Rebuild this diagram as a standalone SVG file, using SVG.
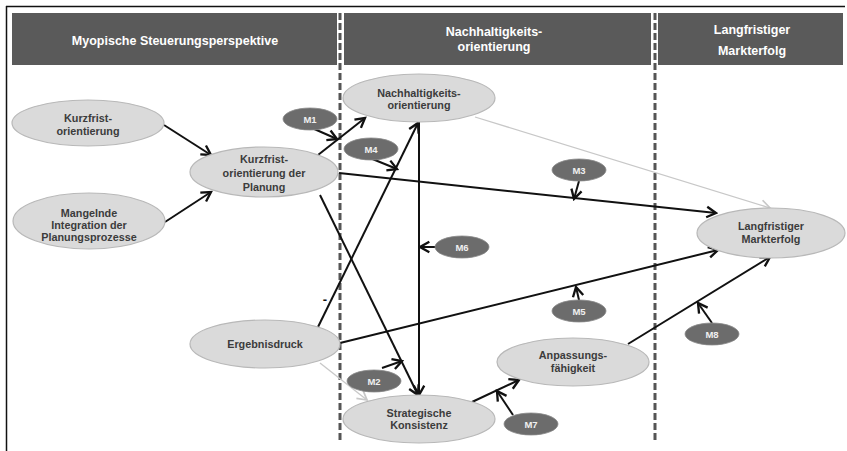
<svg xmlns="http://www.w3.org/2000/svg" width="847" height="451" viewBox="0 0 847 451">
<defs>
<marker id="arr" markerUnits="userSpaceOnUse" markerWidth="14" markerHeight="14" viewBox="-10 -6 12 12" refX="0" refY="0" orient="auto">
<path d="M-8,-4.5 L0,0 L-8,4.5" fill="none" stroke="#111" stroke-width="2"/>
</marker>
<marker id="arrL" markerUnits="userSpaceOnUse" markerWidth="14" markerHeight="14" viewBox="-10 -6 12 12" refX="0" refY="0" orient="auto">
<path d="M-8,-4.5 L0,0 L-8,4.5" fill="none" stroke="#c8c8c8" stroke-width="1.5"/>
</marker>
</defs>
<style>
.bar{fill:#5a5a5a}
.ht{font-family:"Liberation Sans",Arial,sans-serif;font-weight:bold;font-size:12.5px;fill:#fff;text-anchor:middle}
.node{fill:#dadada;stroke:#b8b8b8;stroke-width:1.2}
.nt{font-family:"Liberation Sans",Arial,sans-serif;font-weight:bold;font-size:10.8px;fill:#3c3c3c;text-anchor:middle}
.m{fill:#6c6c6c;stroke:#888;stroke-width:0.8}
.mt{font-family:"Liberation Sans",Arial,sans-serif;font-weight:bold;font-size:9.5px;fill:#f0f0f0;text-anchor:middle}
.c{stroke:#111;stroke-width:2;fill:none;marker-end:url(#arr)}
.cl{stroke:#c8c8c8;stroke-width:1.3;fill:none;marker-end:url(#arrL)}
.dash{stroke:#555;stroke-width:3;stroke-dasharray:7 3;fill:none}
</style>
<rect x="0" y="0" width="847" height="451" fill="#fff"/>
<g id="frame">
<line x1="6" y1="6.5" x2="845" y2="6.5" stroke="#111" stroke-width="1.5"/>
<line x1="6.5" y1="6" x2="6.5" y2="451" stroke="#111" stroke-width="1.5"/>
</g>
<g id="headers">
<rect class="bar" x="12" y="13" width="325" height="52"/>
<rect class="bar" x="344" y="13" width="307" height="52"/>
<rect class="bar" x="658" y="13" width="185" height="52"/>
<text class="ht" x="175" y="45">Myopische Steuerungsperspektive</text>
<text class="ht" x="494" y="36">Nachhaltigkeits-</text>
<text class="ht" x="494" y="51">orientierung</text>
<text class="ht" x="752" y="34">Langfristiger</text>
<text class="ht" x="752" y="55">Markterfolg</text>
</g>
<g id="dividers">
<line class="dash" x1="340" y1="13" x2="340" y2="440"/>
<line class="dash" x1="655" y1="13" x2="655" y2="440"/>
</g>
<g id="connectors">
<line class="c" x1="164" y1="125" x2="211" y2="155"/>
<line class="c" x1="165" y1="222" x2="211" y2="192"/>
<line class="c" x1="318" y1="155" x2="365" y2="118"/>
<line class="c" x1="312" y1="128" x2="337" y2="139"/>
<line class="c" x1="370" y1="158" x2="397" y2="169"/>
<line class="c" x1="318" y1="327" x2="418" y2="123"/>
<line class="c" x1="419" y1="122" x2="419" y2="395"/>
<line class="c" x1="436" y1="247" x2="420" y2="247"/>
<line class="c" x1="320" y1="195" x2="418" y2="395"/>
<line class="c" x1="339" y1="173" x2="716" y2="213"/>
<line class="c" x1="579" y1="181" x2="574" y2="199"/>
<line class="cl" x1="475" y1="117" x2="770" y2="208"/>
<line class="c" x1="340" y1="343" x2="718" y2="250"/>
<line class="c" x1="579" y1="300" x2="576" y2="287"/>
<line class="c" x1="628" y1="344" x2="770" y2="257"/>
<line class="c" x1="712" y1="323" x2="698" y2="303"/>
<line class="c" x1="472" y1="402" x2="519" y2="380"/>
<line class="c" x1="513" y1="415" x2="497" y2="391"/>
<line class="c" x1="382" y1="368" x2="402" y2="361"/>
<line class="cl" x1="320" y1="363" x2="367" y2="400"/>
<text x="325" y="304" font-family="Liberation Sans, Arial, sans-serif" font-weight="bold" font-size="13px" fill="#111" text-anchor="middle">-</text>
</g>
<g id="n-kurzfrist">
<ellipse class="node" cx="88" cy="123" rx="76" ry="23"/>
<text class="nt" x="88" y="122">Kurzfrist-</text>
<text class="nt" x="88" y="135">orientierung</text>
</g>
<g id="n-mangelnde">
<ellipse class="node" cx="89" cy="221" rx="76" ry="28"/>
<text class="nt" x="89" y="217">Mangelnde</text>
<text class="nt" x="89" y="229">Integration der</text>
<text class="nt" x="89" y="241">Planungsprozesse</text>
</g>
<g id="n-kdp">
<ellipse class="node" cx="264" cy="172" rx="74" ry="25"/>
<text class="nt" x="264" y="163">Kurzfrist-</text>
<text class="nt" x="264" y="177">orientierung der</text>
<text class="nt" x="264" y="191">Planung</text>
</g>
<g id="n-nachhaltigkeit">
<ellipse class="node" cx="419" cy="98" rx="76" ry="24"/>
<text class="nt" x="419" y="97">Nachhaltigkeits-</text>
<text class="nt" x="419" y="109">orientierung</text>
</g>
<g id="n-ergebnisdruck">
<ellipse class="node" cx="265" cy="344" rx="75" ry="24"/>
<text class="nt" x="265" y="348">Ergebnisdruck</text>
</g>
<g id="n-strategische">
<ellipse class="node" cx="419" cy="419" rx="76" ry="24"/>
<text class="nt" x="419" y="417">Strategische</text>
<text class="nt" x="419" y="429">Konsistenz</text>
</g>
<g id="n-anpassung">
<ellipse class="node" cx="573" cy="362" rx="76" ry="24"/>
<text class="nt" x="573" y="359">Anpassungs-</text>
<text class="nt" x="573" y="372">fähigkeit</text>
</g>
<g id="n-markterfolg">
<ellipse class="node" cx="771" cy="233" rx="74" ry="25"/>
<text class="nt" x="771" y="230">Langfristiger</text>
<text class="nt" x="771" y="243">Markterfolg</text>
</g>
<g id="m1"><ellipse class="m" cx="310" cy="119" rx="27" ry="11"/><text class="mt" x="310" y="123">M1</text></g>
<g id="m2"><ellipse class="m" cx="374" cy="381" rx="27" ry="11"/><text class="mt" x="374" y="385">M2</text></g>
<g id="m3"><ellipse class="m" cx="579" cy="170" rx="27" ry="11"/><text class="mt" x="579" y="174">M3</text></g>
<g id="m4"><ellipse class="m" cx="371" cy="149" rx="27" ry="11"/><text class="mt" x="371" y="153">M4</text></g>
<g id="m5"><ellipse class="m" cx="579" cy="311" rx="27" ry="11"/><text class="mt" x="579" y="315">M5</text></g>
<g id="m6"><ellipse class="m" cx="462" cy="247" rx="27" ry="11"/><text class="mt" x="462" y="251">M6</text></g>
<g id="m7"><ellipse class="m" cx="531" cy="424" rx="27" ry="11"/><text class="mt" x="531" y="428">M7</text></g>
<g id="m8"><ellipse class="m" cx="712" cy="334" rx="27" ry="11"/><text class="mt" x="712" y="338">M8</text></g>
</svg>
